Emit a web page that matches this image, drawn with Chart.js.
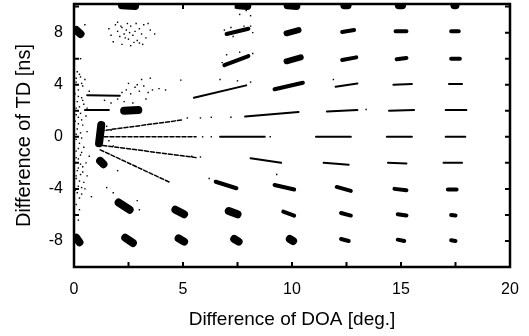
<!DOCTYPE html>
<html>
<head>
<meta charset="utf-8">
<script src="https://cdn.jsdelivr.net/npm/chart.js@4.4.0/dist/chart.umd.min.js"></script>
<style>
  body { margin: 0; background: #fff; }
  #wrap { width: 529px; height: 336px; }
</style>
</head>
<body>
<div id="wrap"><canvas id="grafica"></canvas></div>
<script>
// ejes
const xTicks = [0, 2.5, 5, 7.5, 10, 12.5, 15, 17.5, 20];
const xLabels = [0, 5, 10, 15, 20];
const yTicks = [-10, -8, -6, -4, -2, 0, 2, 4, 6, 8, 10];
const yLabels = [-8, -4, 0, 4, 8];

// manchas grandes [x1, y1, x2, y2]
const blobs = [
  [0.1, 8.2, 0.3, 7.9], [0.1, -7.75, 0.25, -8.1],
  [2.05, -5.05, 2.55, -5.6], [2.35, -7.75, 2.7, -8.15],
  [4.8, -7.8, 5.05, -8.05], [4.65, -5.6, 5.05, -5.95],
  [7.1, -5.7, 7.5, -5.95], [7.35, -7.85, 7.55, -8.05],
  [1.2, -1.85, 1.35, -2.1], [2.3, 2.0, 2.95, 2.05],
  [1.15, -0.5, 1.25, 0.9], [9.9, -7.85, 10.05, -8.0],
  [2.2, 10.1, 2.8, 10.05], [9.8, 10.1, 10.2, 10.05],
  [12.4, 10.1, 12.55, 10.1], [14.9, 10.1, 15.05, 10.1], [17.45, 10.1, 17.5, 10.1],
  [7.55, 10.1, 7.95, 10.05]
];

// manchas medianas
const midBlobs = [
  [9.75, 7.95, 10.3, 8.2], [9.75, 5.8, 10.4, 6.1]
];

// trazos medianos
const streaks = [
  [12.3, 8.05, 12.85, 8.2], [14.75, 8.1, 15.25, 8.1], [17.3, 8.1, 17.65, 8.1],
  [7.0, 7.9, 8.0, 8.3],
  [12.3, 5.9, 12.95, 6.1], [14.8, 5.95, 15.25, 6.05], [17.3, 6.0, 17.7, 6.0],
  [6.9, 5.5, 8.0, 6.2],
  [9.2, 3.65, 10.5, 4.15],
  [9.2, -3.7, 10.1, -4.05], [12.05, -3.85, 12.7, -4.15], [14.7, -4.0, 15.25, -4.1], [17.15, -4.05, 17.55, -4.05],
  [9.6, -5.75, 10.1, -6.05], [12.25, -5.85, 12.7, -6.05], [14.85, -5.95, 15.25, -6.05], [17.3, -6.0, 17.5, -6.05],
  [12.25, -7.85, 12.6, -8.0], [14.85, -7.9, 15.15, -8.0], [17.3, -7.95, 17.5, -8.0],
  [6.5, -3.45, 7.45, -3.95]
];

// trazos finos
const thinStreaks = [
  [5.5, 3.0, 7.9, 3.95], [12.0, 3.85, 13.0, 4.1], [14.65, 4.0, 15.5, 4.05], [17.2, 4.05, 17.8, 4.05],
  [7.85, 1.55, 10.3, 1.9], [11.6, 1.95, 13.0, 2.05], [14.45, 2.0, 15.6, 2.05], [17.05, 2.05, 18.0, 2.05],
  [0.5, 2.05, 1.6, 2.05], [0.6, 3.2, 2.1, 3.15],
  [6.7, 0, 8.75, 0], [11.1, 0, 12.7, 0], [14.35, 0, 15.5, 0], [17.05, 0, 17.95, 0],
  [8.1, -1.65, 9.5, -2.0], [11.45, -2.0, 12.6, -2.15], [14.4, -2.0, 15.25, -2.05], [16.95, -2.0, 17.8, -2.0]
];

// rayos punteados desde el origen
const rays = [
  [1.1, 0, 5.6, 0],
  [1.2, 0.45, 5.0, 1.3], [1.05, -0.6, 5.6, -1.6], [1.2, -1.0, 4.4, -3.5]
];

// puntos sueltos
const dots = [
  [0.15, 5.0], [0.3, 4.6], [0.1, 4.2], [0.4, 3.9], [0.2, 3.6], [0.05, 3.3], [0.35, 3.0], [0.15, 2.7],
  [0.45, 2.5], [0.1, 2.2], [0.3, 1.8], [0.2, 1.5], [0.05, 1.2], [0.4, 0.9], [0.15, 0.6], [0.3, 0.3],
  [0.1, -0.2], [0.25, -0.5], [0.45, -0.8], [0.1, -1.1], [0.3, -1.4], [0.2, -1.7], [0.05, -2.0], [0.4, -2.3],
  [0.15, -2.6], [0.3, -2.9], [0.1, -3.2], [0.45, -3.5], [0.2, -3.8], [0.05, -4.1], [0.35, -4.4], [0.6, -3.0],
  [0.7, -1.5], [0.6, 0.4], [0.7, 3.5], [0.5, 4.4], [0.8, -4.6], [0.3, 6.0], [0.5, 8.6],
  [0.25, 4.8], [0.1, 4.5], [0.35, 4.1], [0.2, 3.1], [0.4, 2.8], [0.25, 2.3], [0.1, 1.7], [0.35, 1.3],
  [0.2, 1.0], [0.1, 0.2], [0.35, -0.1], [0.2, -0.9], [0.35, -1.2], [0.1, -1.6], [0.3, -2.1], [0.2, -2.4],
  [0.4, -2.7], [0.1, -3.0], [0.25, -3.4], [0.35, -3.9], [0.15, -4.3], [0.25, -4.7], [0.1, -5.2], [0.55, -2.0],
  [0.55, 1.6], [0.5, -4.0], [0.6, 2.2], [0.25, -5.6], [0.2, -6.4],
  [1.6, 8.3], [1.9, 8.6], [2.0, 8.1], [2.1, 7.7], [2.2, 8.4], [2.3, 7.9], [2.4, 8.2], [2.5, 7.5],
  [2.6, 8.5], [2.7, 7.8], [2.8, 8.1], [2.9, 7.4], [3.0, 8.3], [3.1, 7.9], [3.2, 8.6], [3.3, 7.6],
  [3.5, 8.2], [3.7, 7.9], [1.8, 7.3], [2.2, 7.1], [2.6, 7.0], [3.0, 7.2], [2.0, 8.8], [2.45, 8.7],
  [2.85, 8.7], [2.35, 7.6], [1.7, 7.8], [2.75, 7.25], [3.4, 8.7], [3.15, 7.1], [2.15, 8.5], [2.55, 8.0],
  [2.2, 3.4], [2.4, 3.6], [2.6, 3.3], [2.8, 3.8], [3.0, 3.5], [3.2, 3.9], [3.4, 3.4], [3.6, 3.6],
  [3.9, 3.7], [2.5, 4.1], [3.1, 4.4], [3.5, 4.5], [2.0, 2.9], [2.3, 2.7], [2.7, 2.6], [3.3, 2.9],
  [4.2, 3.6], [1.7, 2.6], [1.4, 2.8], [2.9, 4.0], [4.9, 4.35], [6.7, 4.4], [7.5, 4.3], [8.1, 4.2],
  [6.9, 8.2], [7.2, 8.4], [7.8, 8.5], [8.1, 8.5], [7.3, 7.7], [8.2, 8.0], [7.6, 9.4], [7.9, 9.7],
  [8.1, 9.3], [7.4, 9.9], [7.0, 6.3], [7.6, 6.5], [8.2, 6.4], [6.8, 5.7],
  [5.2, 1.45], [5.8, 1.45], [6.3, 1.5], [7.2, 1.5], [5.9, 0], [6.3, 0], [9.0, 0],
  [1.5, 0.8], [1.7, 0.5], [1.6, -0.3], [1.8, -0.7], [2.0, -2.6], [1.5, -3.9], [1.8, -4.3],
  [2.9, -4.9], [3.0, -5.6], [5.4, -1.5], [5.8, -1.55], [9.3, -2.9], [6.2, -3.2], [13.4, 2.1], [11.9, 4.4]
];

function segmentos(lista) {
  const out = [];
  lista.forEach(s => {
    out.push({ x: s[0], y: s[1] });
    out.push({ x: s[2], y: s[3] });
    out.push({ x: NaN, y: NaN });
  });
  return out;
}

function capaTrazos(lista, ancho, guion) {
  return {
    data: segmentos(lista),
    showLine: true,
    spanGaps: false,
    borderColor: '#000',
    borderWidth: ancho,
    borderCapStyle: 'round',
    borderDash: guion || [],
    pointRadius: 0,
    clip: 0
  };
}

const marco = {
  id: 'marco',
  afterDatasetsDraw(chart) {
    const ctx = chart.ctx;
    const a = chart.chartArea;
    const sx = chart.scales.x, sy = chart.scales.y;
    ctx.save();
    ctx.strokeStyle = '#000';
    ctx.lineWidth = 2;
    xTicks.forEach(v => {
      const px = sx.getPixelForValue(v);
      ctx.beginPath();
      ctx.moveTo(px, a.bottom); ctx.lineTo(px, a.bottom - 5);
      ctx.moveTo(px, a.top); ctx.lineTo(px, a.top + 5);
      ctx.stroke();
    });
    yTicks.forEach(v => {
      const py = sy.getPixelForValue(v);
      ctx.beginPath();
      ctx.moveTo(a.left, py); ctx.lineTo(a.left + 5, py);
      ctx.moveTo(a.right, py); ctx.lineTo(a.right - 5, py);
      ctx.stroke();
    });
    ctx.lineWidth = 2.5;
    ctx.strokeRect(a.left, a.top, a.right - a.left, a.bottom - a.top);
    ctx.restore();
  }
};

const fuente = 'Liberation Sans, Arial, sans-serif';

new Chart(document.getElementById('grafica'), {
  type: 'scatter',
  data: {
    datasets: [
      capaTrazos(blobs, 8),
      capaTrazos(midBlobs, 6),
      capaTrazos(streaks, 4),
      capaTrazos(thinStreaks, 2),
      capaTrazos(rays, 1.5, [4, 2]),
      {
        data: dots.map(d => ({ x: d[0], y: d[1] })),
        pointStyle: 'rect',
        pointRadius: 1,
        backgroundColor: '#000',
        borderWidth: 0,
        clip: 0
      }
    ]
  },
  options: {
    responsive: true,
    maintainAspectRatio: false,
    animation: false,
    layout: { padding: { top: 4, right: 19, left: 0, bottom: 0 } },
    plugins: { legend: { display: false }, tooltip: { enabled: false } },
    scales: {
      x: {
        type: 'linear',
        min: 0, max: 20,
        afterBuildTicks: s => { s.ticks = xTicks.map(v => ({ value: v })); },
        afterFit: s => { s.height = 69; s.paddingLeft = 0; s.paddingRight = 0; },
        grid: { display: false, drawTicks: false },
        border: { display: false },
        ticks: {
          autoSkip: false, maxRotation: 0, padding: 13,
          color: '#000', font: { family: fuente, size: 16 },
          callback: v => xLabels.includes(v) ? String(v) : ''
        },
        title: {
          display: true, text: 'Difference of DOA [deg.]', color: '#000',
          font: { family: fuente, size: 19 }, padding: { top: 5, bottom: 5 }
        }
      },
      y: {
        type: 'linear',
        min: -10, max: 10.2,
        afterBuildTicks: s => { s.ticks = yTicks.map(v => ({ value: v })); },
        afterFit: s => { s.width = 74; s.paddingTop = 0; s.paddingBottom = 0; },
        grid: { display: false, drawTicks: false },
        border: { display: false },
        ticks: {
          autoSkip: false, padding: 11,
          color: '#000', font: { family: fuente, size: 16 },
          callback: v => yLabels.includes(v) ? String(v) : ''
        },
        title: {
          display: true, text: 'Difference of TD [ns]', color: '#000',
          font: { family: fuente, size: 20 }, padding: { top: 12, bottom: 12 }
        }
      }
    }
  },
  plugins: [marco]
});
</script>
</body>
</html>
